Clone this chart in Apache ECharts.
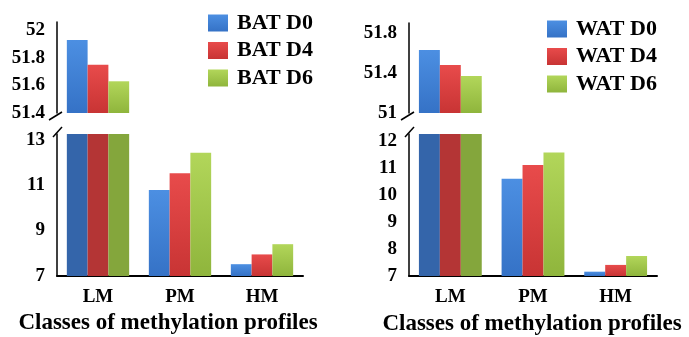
<!DOCTYPE html>
<html>
<head>
<meta charset="utf-8">
<script src="https://cdn.jsdelivr.net/npm/echarts@6/dist/echarts.min.js"></script>
<style>html,body{margin:0;padding:0;background:#fff}#c{width:689px;height:337px}</style>
</head>
<body>
<div id="c"></div>
<script>
// ---- data ----
var categories = ['LM', 'PM', 'HM'];
var batNames = ['BAT D0', 'BAT D4', 'BAT D6'];
var watNames = ['WAT D0', 'WAT D4', 'WAT D6'];
var bat_d0 = [51.93, 10.78, 7.52];
var bat_d4 = [51.75, 11.52, 7.95];
var bat_d6 = [51.63, 12.42, 8.40];
var wat_d0 = [51.63, 10.60, 7.16];
var wat_d4 = [51.48, 11.10, 7.41];
var wat_d6 = [51.37, 11.57, 7.74];
var batUpperTicks = [51.4, 51.6, 51.8, 52];
var batLowerTicks = [7, 9, 11, 13];
var watUpperTicks = [51, 51.4, 51.8];
var watLowerTicks = [7, 8, 9, 10, 11, 12];
var xTitle = 'Classes of methylation profiles';

// ---- styles ----
var FONT = 'Liberation Serif';
var cols = [
  {top: '#4c8fe2', bot: '#3572c6', dark: '#3465aa'},
  {top: '#e84b4b', bot: '#c83434', dark: '#b43535'},
  {top: '#b2d65a', bot: '#8fb53c', dark: '#84a63c'}
];
function grad(c) {
  return new echarts.graphic.LinearGradient(0, 0, 0, 1, [
    {offset: 0, color: c.top}, {offset: 1, color: c.bot}
  ]);
}
function fmt(list) {
  return function (v) {
    for (var i = 0; i < list.length; i++) if (Math.abs(list[i] - v) < 1e-6) return String(list[i]);
    return '';
  };
}

var L = {left: 57, width: 246}, R = {left: 409, width: 248};
var upTop = 22, upH = 91, loTop = 134, loH = 142;

var grids = [
  {left: L.left, width: L.width, top: upTop, height: upH},
  {left: L.left, width: L.width, top: loTop, height: loH},
  {left: R.left, width: R.width, top: upTop + 1, height: upH - 1},
  {left: R.left, width: R.width, top: loTop, height: loH}
].map(function (g) { g.containLabel = false; g.outerBoundsMode = 'none'; return g; });

function xAx(i, lower) {
  return {
    type: 'category', gridIndex: i, data: categories,
    axisLine: {show: lower, lineStyle: {color: '#000', width: 2}},
    axisTick: {show: false},
    axisLabel: {show: lower, margin: 12, fontFamily: FONT, fontWeight: 'bold', fontSize: 19, color: '#000'}
  };
}
function yAx(i, min, max, interval, ticks) {
  return {
    type: 'value', gridIndex: i, min: min, max: max, interval: interval,
    splitLine: {show: false}, axisTick: {show: false},
    axisLine: {show: true, lineStyle: {color: '#000', width: 1.5}},
    axisLabel: {margin: 12, fontFamily: FONT, fontWeight: 'bold', fontSize: 19, color: '#000',
      formatter: fmt(ticks), showMaxLabel: false, showMinLabel: true}
  };
}

var series = [];
function addSeries(names, datas, xi, lower) {
  for (var k = 0; k < 3; k++) {
    var c = cols[k];
    var d = datas[k].map(function (v, j) {
      if (lower && j === 0) return {value: v, itemStyle: {color: c.dark}};
      return v;
    });
    series.push({
      name: names[k], type: 'bar', xAxisIndex: xi, yAxisIndex: xi, data: d,
      barGap: '0%', barCategoryGap: '24%', clip: true,
      itemStyle: {color: grad(c)}
    });
  }
}
addSeries(batNames, [bat_d0, bat_d4, bat_d6], 0, false);
addSeries(batNames, [bat_d0, bat_d4, bat_d6], 1, true);
addSeries(watNames, [wat_d0, wat_d4, wat_d6], 2, false);
addSeries(watNames, [wat_d0, wat_d4, wat_d6], 3, true);

function legend(names, left, top) {
  return {
    data: names.map(function (n, k) {
      return {name: n, itemStyle: {color: grad(cols[k])}};
    }),
    orient: 'vertical', left: left, top: top, icon: 'rect', padding: 0,
    itemWidth: 20, itemHeight: 17, itemGap: 5.5,
    textStyle: {fontFamily: FONT, fontWeight: 'bold', fontSize: 22, color: '#000', lineHeight: 22, padding: [0, 0, 0, 4]}
  };
}

function slashes(ax) {
  var yb = upTop + upH, yt = loTop;
  return [
    {type: 'line', shape: {x1: ax - 8, y1: yb + 7, x2: ax + 5, y2: yb - 1}, style: {stroke: '#000', lineWidth: 1.5}},
    {type: 'line', shape: {x1: ax - 4, y1: yt + 3, x2: ax + 5, y2: yt - 7}, style: {stroke: '#000', lineWidth: 1.5}}
  ];
}

var graphics = [].concat(slashes(L.left), slashes(R.left));
graphics.push({type: 'text', x: 168, y: 323, style: {text: xTitle, fill: '#000', font: 'bold 23px "' + FONT + '"', textAlign: 'center', textVerticalAlign: 'middle'}});
graphics.push({type: 'text', x: 532, y: 324, style: {text: xTitle, fill: '#000', font: 'bold 23px "' + FONT + '"', textAlign: 'center', textVerticalAlign: 'middle'}});

var chart = echarts.init(document.getElementById('c'), null, {renderer: 'canvas'});
chart.setOption({
  animation: false,
  backgroundColor: '#fff',
  grid: grids,
  xAxis: [xAx(0, false), xAx(1, true), xAx(2, false), xAx(3, true)],
  yAxis: [
    yAx(0, 51.4, 52.06, 0.2, batUpperTicks),
    yAx(1, 7, 13.25, 2, batLowerTicks),
    yAx(2, 51, 51.9, 0.4, watUpperTicks),
    yAx(3, 7, 12.25, 1, watLowerTicks)
  ],
  legend: [legend(batNames, 208, 12), legend(watNames, 547, 18)],
  series: series,
  graphic: graphics
});
</script>
</body>
</html>
